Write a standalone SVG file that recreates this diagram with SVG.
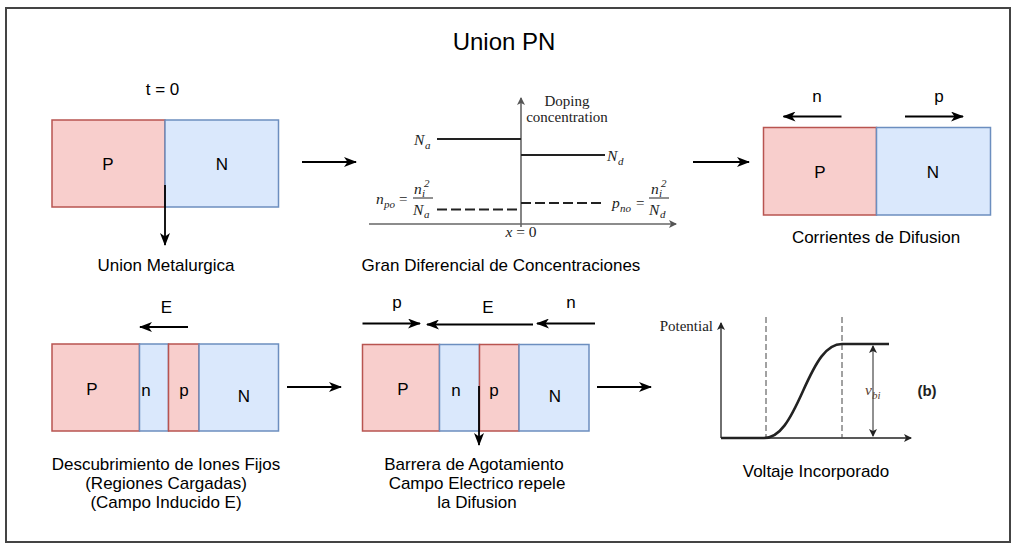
<svg xmlns="http://www.w3.org/2000/svg" width="1018" height="551" viewBox="0 0 1018 551">
<defs>
<style>
.t{font-family:"Liberation Sans",Arial,sans-serif;font-size:17px;fill:#000;text-anchor:middle}
.ti{font-family:"Liberation Sans",Arial,sans-serif;font-size:24px;fill:#000;text-anchor:middle}
.pb{fill:#f8cecc;stroke:#b85450;stroke-width:1.5}
.nb{fill:#dae8fc;stroke:#6c8ebf;stroke-width:1.5}
.ar{stroke:#000;stroke-width:1.8;fill:none;marker-end:url(#arr)}
.m{font-family:"Liberation Serif","Times New Roman",serif;font-size:15px;fill:#222}
.mi{font-family:"Liberation Serif","Times New Roman",serif;font-size:15.5px;font-style:italic;fill:#222}
.ms{font-family:"Liberation Serif","Times New Roman",serif;font-size:11px;font-style:italic;fill:#222}
.ax{stroke:#666;stroke-width:1.6;fill:none}
.ax2{stroke:#222;stroke-width:1.3;fill:none}
</style>
<marker id="arr" viewBox="0 0 13 10" refX="12" refY="5" markerWidth="13" markerHeight="10" orient="auto" markerUnits="userSpaceOnUse">
<path d="M0,0 L13,5 L0,10 L3.5,5 z" fill="#000"/>
</marker>
<marker id="ga" viewBox="0 0 8 8" refX="7" refY="4" markerWidth="8" markerHeight="8" orient="auto" markerUnits="userSpaceOnUse">
<path d="M0,0 L8,4 L0,8 L2,4 z" fill="#555"/>
</marker>
<marker id="ka" viewBox="0 0 8 8" refX="7" refY="4" markerWidth="8" markerHeight="8" orient="auto" markerUnits="userSpaceOnUse">
<path d="M0,0 L8,4 L0,8 L2,4 z" fill="#222"/>
</marker>
<marker id="ks" viewBox="0 0 8 8" refX="1" refY="4" markerWidth="8" markerHeight="8" orient="auto" markerUnits="userSpaceOnUse">
<path d="M8,0 L0,4 L8,8 L6,4 z" fill="#222"/>
</marker>
</defs>
<rect x="0" y="0" width="1018" height="551" fill="#fff"/>
<rect id="frame" x="6" y="8" width="1004" height="534" fill="none" stroke="#444" stroke-width="2"/>
<text id="title" class="ti" x="504" y="50">Union PN</text>

<g id="node-t0">
<text class="t" x="162.5" y="95">t = 0</text>
<rect class="pb" x="52" y="120" width="113" height="87"/>
<rect class="nb" x="165" y="120" width="113.5" height="87"/>
<text class="t" x="108" y="170">P</text>
<text class="t" x="222" y="170">N</text>
<text class="t" x="166" y="271">Union Metalurgica</text>
</g>

<g id="node-doping">
<line class="ax" x1="521" y1="227" x2="521" y2="98" marker-end="url(#ga)"/>
<line class="ax" x1="369" y1="224" x2="676" y2="224" marker-end="url(#ga)"/>
<line x1="437" y1="139" x2="521" y2="139" stroke="#222" stroke-width="2"/>
<line x1="521" y1="155" x2="605" y2="155" stroke="#222" stroke-width="2"/>
<line x1="437" y1="209.5" x2="521" y2="209.5" stroke="#222" stroke-width="2" stroke-dasharray="10,4"/>
<line x1="521" y1="203" x2="605" y2="203" stroke="#222" stroke-width="2" stroke-dasharray="10,4"/>
<text class="m" x="567" y="106" text-anchor="middle" font-size="13.5">Doping</text>
<text class="m" x="567" y="121.5" text-anchor="middle" font-size="13.5">concentration</text>
<text class="mi" x="414" y="145">N</text><text class="ms" x="425" y="148.5">a</text>
<text class="mi" x="607" y="161">N</text><text class="ms" x="618" y="164.5">d</text>
<text class="mi" x="521" y="237" text-anchor="middle" font-size="13.5">x<tspan font-style="normal"> = 0</tspan></text>
<text class="mi" x="376" y="204">n</text><text class="ms" x="384" y="207.5">po</text><text class="m" x="399" y="204">=</text>
<line x1="413" y1="198" x2="433" y2="198" stroke="#222" stroke-width="1"/>
<text class="mi" x="414" y="194">n</text><text class="ms" x="422" y="197">i</text><text class="ms" x="424" y="187" font-style="normal">2</text>
<text class="mi" x="413" y="214.5">N</text><text class="ms" x="424" y="217.5">a</text>
<text class="mi" x="612" y="208">p</text><text class="ms" x="620" y="211.5">no</text><text class="m" x="636" y="208">=</text>
<line x1="649" y1="198" x2="669" y2="198" stroke="#222" stroke-width="1"/>
<text class="mi" x="651" y="194">n</text><text class="ms" x="659" y="197">i</text><text class="ms" x="661" y="187" font-style="normal">2</text>
<text class="mi" x="649" y="214.5">N</text><text class="ms" x="660" y="217.5">d</text>
<text class="t" x="501" y="271">Gran Diferencial de Concentraciones</text>
</g>

<g id="node-difusion">
<text class="t" x="817" y="102">n</text>
<text class="t" x="939" y="102">p</text>
<rect class="pb" x="763.5" y="127.5" width="113" height="87.5"/>
<rect class="nb" x="876.5" y="127.5" width="114" height="87.5"/>
<text class="t" x="820" y="178">P</text>
<text class="t" x="933" y="178">N</text>
<text class="t" x="876" y="243">Corrientes de Difusion</text>
</g>

<g id="node-iones">
<text class="t" x="166.5" y="313">E</text>
<rect class="pb" x="52" y="344" width="87.5" height="87"/>
<rect class="nb" x="139.5" y="344" width="29" height="87"/>
<rect class="pb" x="168.5" y="344" width="30.5" height="87"/>
<rect class="nb" x="199" y="344" width="79.5" height="87"/>
<text class="t" x="92" y="395">P</text>
<text class="t" x="146" y="396">n</text>
<text class="t" x="184" y="396">p</text>
<text class="t" x="244" y="402">N</text>
<text class="t" x="166" y="470">Descubrimiento de Iones Fijos</text>
<text class="t" x="166" y="489">(Regiones Cargadas)</text>
<text class="t" x="166" y="508">(Campo Inducido E)</text>
</g>

<g id="node-barrera">
<text class="t" x="397" y="308">p</text>
<text class="t" x="488" y="313">E</text>
<text class="t" x="571" y="308">n</text>
<rect class="pb" x="362.5" y="344.5" width="77" height="86.5"/>
<rect class="nb" x="439.5" y="344.5" width="40" height="86.5"/>
<rect class="pb" x="479.5" y="344.5" width="39.5" height="86.5"/>
<rect class="nb" x="519" y="344.5" width="70" height="86.5"/>
<text class="t" x="403" y="395">P</text>
<text class="t" x="456" y="396">n</text>
<text class="t" x="494" y="396">p</text>
<text class="t" x="555" y="402">N</text>
<text class="t" x="474" y="470">Barrera de Agotamiento</text>
<text class="t" x="477" y="489">Campo Electrico repele</text>
<text class="t" x="477" y="508">la Difusion</text>
</g>

<g id="node-potencial">
<line class="ax2" x1="721" y1="438" x2="721" y2="323" marker-end="url(#ka)"/>
<line class="ax2" x1="721" y1="438" x2="911" y2="438" marker-end="url(#ka)"/>
<line x1="766" y1="317" x2="766" y2="438" stroke="#444" stroke-width="1" stroke-dasharray="6,3"/>
<line x1="842" y1="317" x2="842" y2="438" stroke="#444" stroke-width="1" stroke-dasharray="6,3"/>
<path d="M721,438 L764,438 C780,438 790,420 803,391 C816,362 826,344 842,344 L889,344" fill="none" stroke="#222" stroke-width="2.6"/>
<line x1="873" y1="346" x2="873" y2="436" stroke="#222" stroke-width="1" marker-start="url(#ks)" marker-end="url(#ka)"/>
<text class="m" x="713" y="331" font-size="13" text-anchor="end">Potential</text>
<text class="mi" x="865" y="395" style="fill:#5a4030">v</text><text class="ms" x="872" y="398.5" style="fill:#5a4030">bi</text>
<text x="927" y="396" text-anchor="middle" font-family="Liberation Sans,Arial,sans-serif" font-size="15" font-weight="bold" fill="#222">(b)</text>
<text class="t" x="816" y="477">Voltaje Incorporado</text>
</g>

<g id="connectors">
<line class="ar" x1="165" y1="185" x2="165" y2="245"/>
<line class="ar" x1="302" y1="162" x2="356" y2="162"/>
<line class="ar" x1="693" y1="162" x2="749" y2="162"/>
<line class="ar" x1="841.5" y1="116.5" x2="783.5" y2="116.5"/>
<line class="ar" x1="905" y1="116.5" x2="963" y2="116.5"/>
<line class="ar" x1="188" y1="327" x2="140" y2="327"/>
<line class="ar" x1="287" y1="387" x2="341" y2="387"/>
<line class="ar" x1="362.5" y1="323.5" x2="420" y2="323.5"/>
<line class="ar" x1="533" y1="324.5" x2="427" y2="324.5"/>
<line class="ar" x1="595" y1="323.5" x2="537" y2="323.5"/>
<line class="ar" x1="479" y1="386" x2="479" y2="445"/>
<line class="ar" x1="597" y1="387" x2="651" y2="387"/>
</g>
</svg>
